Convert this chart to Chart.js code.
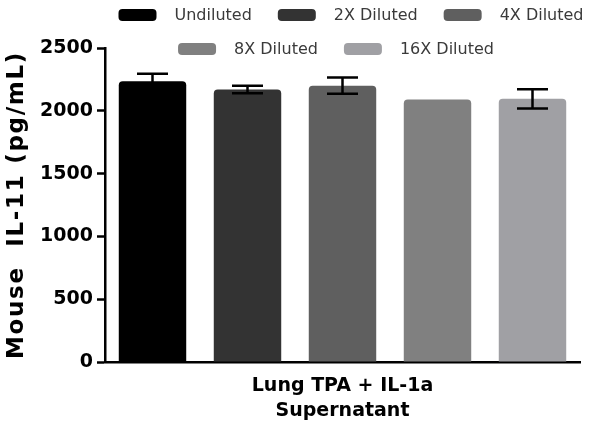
<!DOCTYPE html>
<html lang="en">
<head>
<meta charset="UTF-8">
<title>Mouse IL-11</title>
<style>
    html, body { margin: 0; padding: 0; background: #fff; }
    #wrap { position: relative; width: 592px; height: 431px; }
</style>
</head>
<body>
<div id="wrap"><canvas id="myChart" width="592" height="431"></canvas></div>

<script src="https://cdn.jsdelivr.net/npm/chart.js"></script>
<script>
    // data
    const categories = [['Lung TPA + IL-1a', 'Supernatant']];
    const seriesNames = ['Undiluted', '2X Diluted', '4X Diluted', '8X Diluted', '16X Diluted'];
    const seriesMeans = [2235, 2170, 2200, 2090, 2095];
    const seriesErrors = [60, 30, 65, 0, 77];
    const seriesColors = ['#000000', '#333333', '#5f5f5f', '#808080', '#a0a0a4'];
    const yTicks = [0, 500, 1000, 1500, 2000, 2500];
    const yTitle = 'Mouse  IL-11 (pg/mL)';

    const FONT = "'DejaVu Sans', sans-serif";

    // error bars drawn on top of the bars, via the y scale
    const errorBars = {
        id: 'errorBars',
        afterDatasetsDraw(chart) {
            const ctx = chart.ctx;
            const y = chart.scales.y;
            ctx.save();
            ctx.strokeStyle = '#000';
            ctx.lineWidth = 2.5;
            chart.data.datasets.forEach((ds, i) => {
                const err = seriesErrors[i];
                if (!err) return;
                const bar = chart.getDatasetMeta(i).data[0];
                const hi = y.getPixelForValue(seriesMeans[i] + err);
                const lo = y.getPixelForValue(seriesMeans[i] - err);
                const half = 15.5;
                ctx.beginPath();
                ctx.moveTo(bar.x, hi); ctx.lineTo(bar.x, lo);
                ctx.moveTo(bar.x - half, hi); ctx.lineTo(bar.x + half, hi);
                ctx.moveTo(bar.x - half, lo); ctx.lineTo(bar.x + half, lo);
                ctx.stroke();
            });
            ctx.restore();
        }
    };

    // y title drawn by hand so it can be letter-spaced like the original
    const spacedTitle = {
        id: 'spacedTitle',
        afterDraw(chart) {
            const ctx = chart.ctx;
            const area = chart.chartArea;
            ctx.save();
            ctx.translate(17, (area.top + area.bottom) / 2);
            ctx.rotate(-Math.PI / 2);
            ctx.font = "bold 23px " + FONT;
            if ('letterSpacing' in ctx) ctx.letterSpacing = '1.7px';
            ctx.fillStyle = '#000';
            ctx.textAlign = 'center';
            ctx.textBaseline = 'middle';
            ctx.fillText(yTitle, 0, 0);
            ctx.restore();
        }
    };

    // two-row legend like the original (3 + 2 items)
    const legendRows = {
        id: 'legendRows',
        afterDraw(chart) {
            const ctx = chart.ctx;
            const rows = [{items: [0, 1, 2], cx: 351, cy: 15}, {items: [3, 4], cx: 336, cy: 49}];
            ctx.save();
            ctx.font = "16px " + FONT;
            ctx.textBaseline = 'middle';
            rows.forEach(row => {
                const widths = row.items.map(i => 38 + 18 + ctx.measureText(seriesNames[i]).width);
                const total = widths.reduce((a, b) => a + b, 0) + 26 * (row.items.length - 1);
                let x = row.cx - total / 2;
                row.items.forEach((i, k) => {
                    ctx.fillStyle = seriesColors[i];
                    ctx.beginPath();
                    ctx.roundRect(x, row.cy - 6, 38, 12, 4);
                    ctx.fill();
                    ctx.fillStyle = '#3a3a3a';
                    ctx.fillText(seriesNames[i], x + 56, row.cy + 1);
                    x += widths[k] + 26;
                });
            });
            ctx.restore();
        }
    };

    new Chart(document.getElementById('myChart'), {
        type: 'bar',
        data: {
            labels: categories,
            datasets: seriesNames.map((name, i) => ({
                label: name,
                data: [seriesMeans[i]],
                backgroundColor: seriesColors[i],
                borderRadius: 4,
                borderSkipped: 'bottom',
                categoryPercentage: 1.0,
                barPercentage: 0.71
            }))
        },
        options: {
            responsive: false,
            animation: false,
            layout: { padding: { top: 48, right: 12, left: 0, bottom: 0 } },
            plugins: {
                legend: { display: false },
                tooltip: { enabled: false }
            },
            scales: {
                x: {
                    grid: { display: false, drawOnChartArea: false, tickLength: 7, tickWidth: 2.5, tickColor: '#000' },
                    border: { color: '#000', width: 2.5 },
                    ticks: { color: '#000', font: { family: FONT, size: 19, weight: 'bold', lineHeight: 1.3 }, padding: 5 },
                    afterFit(scale) { scale.height = 69; }
                },
                y: {
                    min: 0, max: 2500,
                    afterBuildTicks(scale) { scale.ticks = yTicks.map(v => ({ value: v })); },
                    grid: { drawOnChartArea: false, tickLength: 8, tickWidth: 2.5, tickColor: '#000' },
                    border: { color: '#000', width: 2.5 },
                    ticks: {
                        color: '#000',
                        font: { family: FONT, size: 19, weight: 'bold' },
                        padding: 4,
                        callback: v => String(v)
                    },
                    afterFit(scale) { scale.width = 105; }
                }
            }
        },
        plugins: [errorBars, spacedTitle, legendRows]
    });
</script>
</body>
</html>
